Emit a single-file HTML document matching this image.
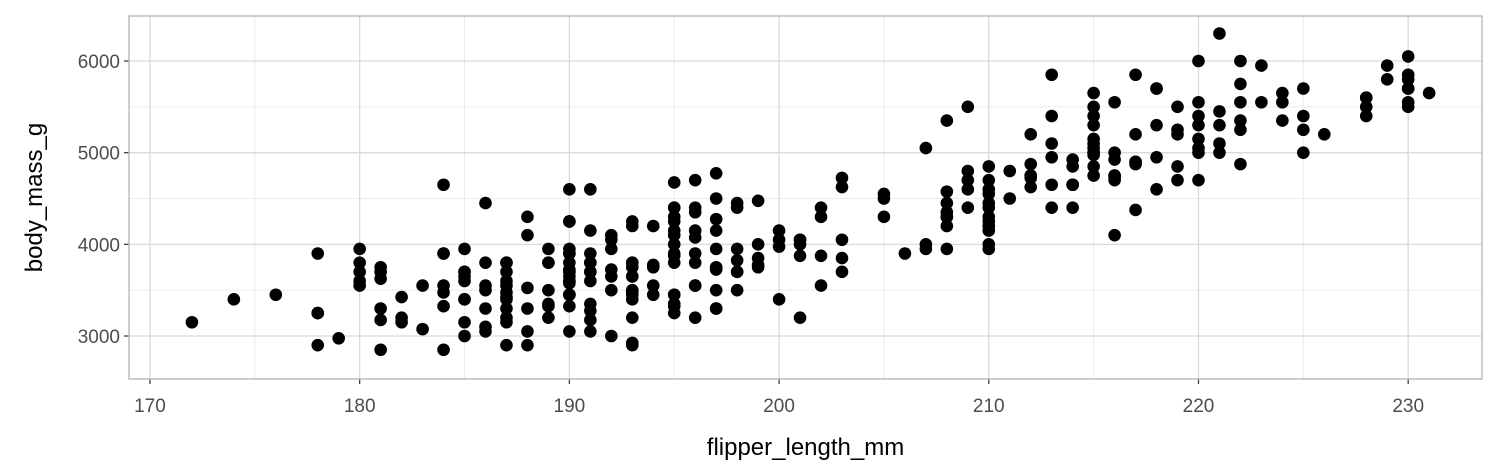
<!DOCTYPE html>
<html><head><meta charset="utf-8"><style>
body{margin:0;background:#fff;font-family:"Liberation Sans",Arial,sans-serif;overflow:hidden;}
svg text{font-family:"Liberation Sans",Arial,sans-serif;}
</style></head><body>
<svg id="chart" width="1512" height="475" style="display:block"></svg>
<script>
const flipper=[181,186,195,193,190,181,195,193,190,186,180,182,191,198,185,195,197,184,194,174,180,189,185,180,187,183,187,172,180,178,178,188,184,195,196,190,180,181,184,182,195,186,196,185,190,182,179,190,191,186,188,190,200,187,191,186,193,181,194,185,195,185,192,184,192,195,188,190,198,190,190,196,197,190,195,191,184,187,195,189,196,187,193,191,194,190,189,189,190,202,205,185,186,187,208,190,196,178,192,192,203,183,190,193,184,199,190,181,197,198,191,193,197,191,196,188,199,189,189,187,198,176,202,186,199,191,195,191,210,190,197,193,199,187,190,191,200,185,193,193,187,188,190,192,185,190,184,195,193,187,201,
211,230,210,218,215,210,211,219,209,215,214,216,214,213,210,217,210,221,209,222,218,215,213,215,215,215,216,215,210,220,222,209,207,230,220,220,213,219,208,208,208,225,210,216,222,217,210,225,213,215,210,220,210,225,217,220,208,220,208,224,208,221,214,231,219,230,214,229,220,223,216,221,221,217,216,230,209,220,215,223,212,221,212,224,212,228,218,218,212,230,218,228,212,224,214,226,216,222,203,225,219,228,215,228,216,215,210,219,208,209,216,229,213,230,217,230,217,222,214,215,222,212,213,
192,196,193,188,197,198,178,197,195,198,193,194,185,201,190,201,197,181,190,195,191,187,193,195,197,200,200,191,201,203,195,199,195,192,210,187,196,196,196,203,201,197,203,202,194,206,189,195,207,202,193,210,198,205,205,207];
const mass=[3750,3800,3250,3450,3650,3625,4675,3475,4250,3300,3700,3200,3800,4400,3700,3450,4500,3325,4200,3400,3600,3800,3950,3800,3800,3550,3200,3150,3950,3250,3900,3300,3900,3325,4150,3950,3550,3300,4650,3150,3900,3100,4400,3000,4600,3425,2975,3450,4150,3500,4300,3450,4050,2900,3700,3550,3800,2850,3750,3150,4400,3600,4050,2850,3950,3350,4100,3050,4450,3600,3900,3550,4150,3700,4250,3700,3900,3550,4000,3200,4700,3800,4200,3350,3550,3800,3500,3950,3600,3550,4300,3400,4450,3300,4300,3700,4350,2900,4100,3725,4725,3075,4250,2925,3550,3750,3900,3175,4775,3825,4600,3200,4275,3900,4075,2900,3775,3350,3325,3150,3500,3450,3875,3050,4000,3275,4300,3050,4000,3325,3500,3500,4475,3425,3900,3175,3975,3400,4250,3400,3475,3050,3725,3000,3650,4250,3475,3450,3750,3700,4000,
4500,5700,4450,5700,5400,4550,4800,5200,4400,5150,4650,5550,4650,5850,4200,5850,4150,6300,4800,5350,5700,5000,4400,5050,5000,5100,4100,5650,4600,5550,5250,4700,5050,6050,5150,5400,4950,5250,4350,5350,3950,5700,4300,4750,5550,4900,4200,5400,5100,5300,4850,5300,4400,5000,4900,5050,4300,5000,4450,5550,4200,5300,4400,5650,4700,5700,4650,5800,4700,5550,4750,5000,5100,5200,4700,5800,4600,6000,4750,5950,4625,5450,4725,5350,4750,5600,4600,5300,4875,5550,4950,5400,4750,5650,4850,5200,4925,4875,4625,5250,4850,5600,4975,5500,4725,5500,4700,5500,4575,5500,5000,5950,4650,5500,4375,5850,4875,6000,4925,4850,5750,5200,5400,
3500,3900,3650,3525,3725,3950,3250,3750,4150,3700,3800,3775,3700,4050,3575,4050,3300,3700,3450,4400,3600,3400,2900,3800,3300,4150,3400,3800,3200,3700,3350,3850,4100,3650,3950,3600,3800,3550,3200,4050,3875,3950,3850,4300,3450,3900,3800,3875,3950,4400,3650,4250,3700,4550,4500,4000];
const xTicks=[170,180,190,200,210,220,230];
const yTicks=[3000,4000,5000,6000];
const NS="http://www.w3.org/2000/svg";
const svg=document.getElementById('chart');
const L=129,R=1482,T=16,B=379;
const xMin=169.0,xMax=233.52,yMin=2531,yMax=6491;
const xs=v=>L+(v-xMin)/(xMax-xMin)*(R-L);
const ys=v=>B-(v-yMin)/(yMax-yMin)*(B-T);
function el(tag,attrs,parent){const e=document.createElementNS(NS,tag);for(const k in attrs)e.setAttribute(k,attrs[k]);(parent||svg).appendChild(e);return e;}
const grid=el('g',{});


for(let v=175;v<=233;v+=10){const l=el('line',{x1:xs(v),x2:xs(v),y1:T,y2:B,stroke:'#ececec','stroke-width':1},grid);}
for(let v=2500;v<=6500;v+=1000){if(v<yMin||v>yMax)continue;const l=el('line',{x1:L,x2:R,y1:ys(v),y2:ys(v),stroke:'#ececec','stroke-width':1},grid);}
xTicks.forEach(v=>{const l=el('line',{x1:xs(v),x2:xs(v),y1:T,y2:B,stroke:'#dadada','stroke-width':1.3},grid);
 const tk=el('line',{x1:xs(v),x2:xs(v),y1:B,y2:B+5,stroke:'#333','stroke-width':1.2});
 const t=el('text',{x:xs(v),y:B+33,'text-anchor':'middle','font-size':19,fill:'#4d4d4d'});t.textContent=v;});
yTicks.forEach(v=>{const l=el('line',{x1:L,x2:R,y1:ys(v),y2:ys(v),stroke:'#dadada','stroke-width':1.3},grid);
 const tk=el('line',{x1:L-5,x2:L,y1:ys(v),y2:ys(v),stroke:'#333','stroke-width':1.2});
 const t=el('text',{x:L-9,y:ys(v)+7,'text-anchor':'end','font-size':19,fill:'#4d4d4d'});t.textContent=v;});
const border=el('rect',{x:L,y:T,width:R-L,height:B-T,fill:'none',stroke:'#b3b3b3','stroke-width':1.3});


const pts=el('g',{});


for(let i=0;i<flipper.length;i++){const c=el('circle',{cx:xs(flipper[i]),cy:ys(mass[i]),r:6.3,fill:'#000'},pts);
 
 }
const xt=el('text',{x:(L+R)/2,y:455,'text-anchor':'middle','font-size':24,fill:'#000'});xt.textContent='flipper_length_mm';


const yt=el('text',{x:0,y:0,'text-anchor':'middle','font-size':24,fill:'#000',transform:`translate(42,${(T+B)/2}) rotate(-90)`});yt.textContent='body_mass_g';


</script>
</body></html>
